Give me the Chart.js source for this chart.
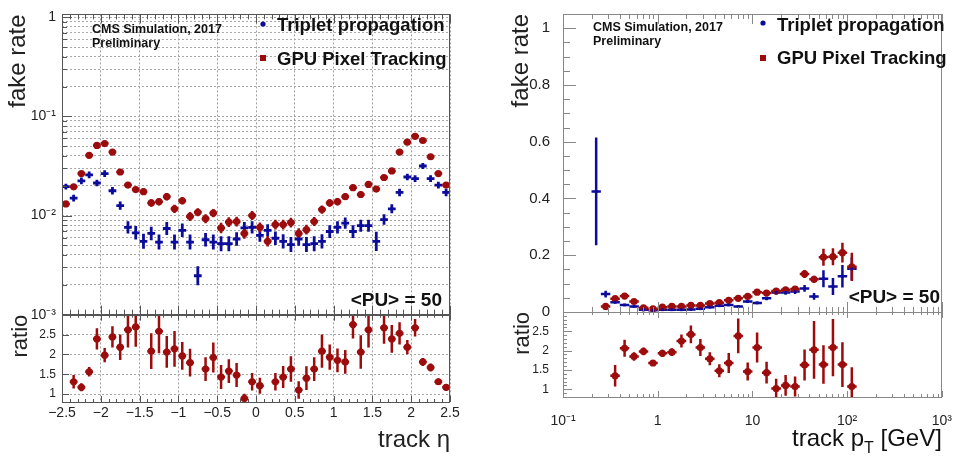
<!DOCTYPE html>
<html lang="en">
<head>
<meta charset="UTF-8">
<title>Fake rate vs eta and pT</title>
<style>
  body { margin: 0; background: #fff; }
  .row { display: flex; width: 960px; height: 461px; }
  canvas { display: block; }
</style>
</head>
<body>
<div class="row">
  <canvas id="etaChart" width="480" height="461"></canvas>
  <canvas id="ptChart" width="480" height="461"></canvas>
</div>
<script src="https://cdn.jsdelivr.net/npm/chart.js"></script>
<script>
const seriesNames = ['Triplet propagation', 'GPU Pixel Tracking']

// eta bins (centres), bin half width 0.05
const etaBins = [-2.45, -2.35, -2.25, -2.15, -2.05, -1.95, -1.85, -1.75, -1.65, -1.55,
  -1.45, -1.35, -1.25, -1.15, -1.05, -0.95, -0.85, -0.75, -0.65, -0.55,
  -0.45, -0.35, -0.25, -0.15, -0.05, 0.05, 0.15, 0.25, 0.35, 0.45,
  0.55, 0.65, 0.75, 0.85, 0.95, 1.05, 1.15, 1.25, 1.35, 1.45,
  1.55, 1.65, 1.75, 1.85, 1.95, 2.05, 2.15, 2.25, 2.35, 2.45]
const etaHalfWidth = 0.05

const etaTriplet = [0.0196, 0.0150, 0.0224, 0.0257, 0.0213, 0.0265, 0.0178, 0.0126, 0.0076, 0.0067,
  0.0055, 0.0066, 0.0054, 0.0074, 0.0054, 0.0071, 0.0054, 0.00247, 0.0057, 0.0054,
  0.0052, 0.0052, 0.0058, 0.0075, 0.0076, 0.0063, 0.0071, 0.0059, 0.0055, 0.0051,
  0.0058, 0.0051, 0.0052, 0.0055, 0.0069, 0.0076, 0.0084, 0.0069, 0.0079, 0.0079,
  0.0055, 0.0091, 0.0117, 0.0171, 0.0245, 0.0236, 0.0316, 0.0236, 0.0203, 0.0171]
// relative errors in %
const etaTripletErr = [7, 8, 8, 8, 8, 8, 9, 10, 15, 17, 19, 17, 19, 16, 19, 17, 19, 25, 17, 19,
  19, 19, 17, 15, 15, 16, 15, 17, 18, 19, 17, 19, 19, 18, 16, 15, 14, 16, 15, 15,
  25, 13, 11, 9, 8, 8, 7, 8, 8, 9]

const etaGpu = [0.0131, 0.0195, 0.0265, 0.0405, 0.0510, 0.0532, 0.0437, 0.0275, 0.0203, 0.0183,
  0.0174, 0.0134, 0.0138, 0.0155, 0.0117, 0.0141, 0.0098, 0.0108, 0.0093, 0.0106,
  0.0075, 0.0086, 0.0087, 0.0066, 0.0100, 0.0076, 0.0055, 0.0081, 0.0081, 0.0085,
  0.0066, 0.0072, 0.0087, 0.0115, 0.0134, 0.0138, 0.0155, 0.0191, 0.0163, 0.0206,
  0.0185, 0.0242, 0.0282, 0.0437, 0.0550, 0.0630, 0.0572, 0.0392, 0.0265, 0.0203]
const etaGpuErr = [4, 4, 4, 4, 4, 4, 4, 5, 6, 6, 7, 9, 9, 9, 10, 9, 11, 10, 11, 10,
  13, 12, 12, 13, 11, 12, 13, 12, 12, 12, 13, 12, 11, 10, 9, 9, 8, 7, 8, 7,
  7, 6, 5, 4, 4, 4, 4, 4, 4, 4]

// ratio GPU / triplet (null = outside the drawn range)
const etaRatio = [null, 1.31, 1.17, 1.56, 2.39, 1.98, 2.44, 2.18, 2.62, 2.69,
  null, 2.08, 2.58, 2.06, 2.14, 1.96, 1.79, null, 1.63, 1.92,
  1.43, 1.58, 1.48, 0.89, 1.31, 1.21, null, 1.31, 1.43, 1.63,
  1.10, 1.40, 1.63, 2.08, 1.93, 1.85, 1.81, 2.75, 2.06, 2.62,
  null, 2.67, 2.39, 2.53, 2.18, 2.67, 1.81, 1.67, 1.31, 1.17]
const etaRatioErr = [null, 0.17, 0.10, 0.12, 0.27, 0.18, 0.27, 0.32, 0.45, 0.50,
  null, 0.45, 0.55, 0.40, 0.45, 0.35, 0.35, null, 0.30, 0.38,
  0.30, 0.30, 0.30, 0.12, 0.22, 0.20, null, 0.22, 0.28, 0.32,
  0.22, 0.30, 0.30, 0.42, 0.32, 0.30, 0.30, 0.35, 0.42, 0.45,
  null, 0.40, 0.35, 0.28, 0.18, 0.22, 0.10, 0.10, 0.08, 0.08]

// pT bins [GeV]
const ptBins = [0.224, 0.282, 0.355, 0.447, 0.562, 0.708, 0.891, 1.12, 1.41, 1.78,
  2.24, 2.82, 3.55, 4.47, 5.62, 7.08, 8.91, 11.2, 14.1, 17.8,
  22.4, 28.2, 35.5, 44.7, 56.2, 70.8, 89.1, 112]
const ptEdges = [0.2, 0.251, 0.316, 0.398, 0.501, 0.631, 0.794, 1, 1.26, 1.58,
  2, 2.51, 3.16, 3.98, 5.01, 6.31, 7.94, 10, 12.6, 15.8,
  20, 25.1, 31.6, 39.8, 50.1, 63.1, 79.4, 100, 126]

const ptTriplet = [0.425, 0.063, 0.0345, 0.025, 0.0195, 0.008, 0.006, 0.008, 0.008, 0.008,
  0.009, 0.0115, 0.017, 0.022, 0.025, 0.0195, 0.037, 0.032, 0.048, 0.069,
  0.069, 0.072, 0.083, 0.055, 0.117, 0.090, 0.126, 0.152]
const ptTripletErr = [0.19, 0.012, 0.005, 0.004, 0.003, 0.002, 0.002, 0.002, 0.002, 0.002,
  0.002, 0.002, 0.003, 0.003, 0.003, 0.003, 0.005, 0.005, 0.007, 0.008,
  0.008, 0.009, 0.012, 0.012, 0.03, 0.03, 0.04, 0.04]

const ptGpu = [null, 0.0195, 0.047, 0.056, 0.037, 0.015, 0.0115, 0.017, 0.0195, 0.0195,
  0.023, 0.023, 0.030, 0.033, 0.041, 0.048, 0.055, 0.070, 0.067, 0.074,
  0.078, 0.081, 0.134, 0.115, 0.193, 0.195, 0.209, 0.159]
const ptGpuErr = [null, 0.004, 0.005, 0.005, 0.004, 0.003, 0.002, 0.002, 0.002, 0.002,
  0.002, 0.002, 0.002, 0.003, 0.003, 0.003, 0.004, 0.005, 0.005, 0.006,
  0.007, 0.008, 0.014, 0.013, 0.03, 0.03, 0.035, 0.05]

const ptRatio = [null, null, 1.35, 2.06, 1.85, 1.98, 1.68, 1.93, 1.96, 2.25,
  2.42, 2.08, 1.79, 1.48, 1.68, 2.38, 1.46, 2.08, 1.43, 1.02,
  1.10, 1.07, 1.63, 2.02, 1.64, 2.08, 1.64, 1.07]
const ptRatioErr = [null, null, 0.28, 0.22, 0.11, 0.10, 0.05, 0.09, 0.10, 0.17,
  0.23, 0.22, 0.17, 0.17, 0.26, 0.45, 0.23, 0.39, 0.28, 0.25,
  0.27, 0.26, 0.40, 0.75, 0.50, 0.74, 0.58, 0.50]

const BLUE = '#0c0c9c'
const RED = '#9c0c0c'
const FONT = '"Liberation Sans", Arial, Helvetica, sans-serif'

Chart.defaults.font.family = FONT
Chart.defaults.color = '#222'

// --- helpers
const SUP = { '-': '\u207B', '0': '\u2070', '1': '\u00B9', '2': '\u00B2', '3': '\u00B3', '4': '\u2074', '5': '\u2075', '6': '\u2076', '7': '\u2077', '8': '\u2078', '9': '\u2079' }
function powLabel(v) {
  const e = Math.round(Math.log10(v))
  if (Math.abs(v / Math.pow(10, e) - 1) > 1e-6) return ''
  if (e === 0) return '1'
  if (e === 1) return '10'
  return '10' + String(e).split('').map(c => SUP[c]).join('')
}
function keepDecadeSteps(scale) {
  scale.ticks = scale.ticks.filter(t => {
    const e = Math.floor(Math.log10(t.value) + 1e-9)
    const m = t.value / Math.pow(10, e)
    return Math.abs(m - Math.round(m)) < 1e-6
  })
}
const isMult = (v, step) => Math.abs(v / step - Math.round(v / step)) < 1e-6
const num = v => String(Math.round(v * 10) / 10).replace('-', '\u2212')
const ratioLabel = v => (isMult(v, 0.5) && v < 2.99) ? num(v) : ''

function etaPoints(vals, errs, relative) {
  const pts = []
  vals.forEach((v, i) => {
    if (v == null) return
    const e = errs[i]
    pts.push({
      x: etaBins[i], y: v,
      xMin: etaBins[i] - etaHalfWidth, xMax: etaBins[i] + etaHalfWidth,
      yMin: relative ? v / (1 + e / 100) : v - e,
      yMax: relative ? v * (1 + e / 100) : v + e
    })
  })
  return pts
}
function ptPoints(vals, errs) {
  const pts = []
  vals.forEach((v, i) => {
    if (v == null) return
    pts.push({ x: ptBins[i], y: v, xMin: ptEdges[i], xMax: ptEdges[i + 1], yMin: v - errs[i], yMax: v + errs[i] })
  })
  return pts
}

// --- plugins
const errorBars = {
  id: 'errorBars',
  beforeDatasetsDraw(chart) {
    const ctx = chart.ctx
    const area = chart.chartArea
    const xs = chart.scales.x
    chart.data.datasets.forEach(ds => {
      const ys = chart.scales[ds.yAxisID]
      ctx.save()
      ctx.beginPath()
      ctx.rect(area.left, ys.top, area.right - area.left, ys.bottom - ys.top)
      ctx.clip()
      ctx.strokeStyle = ds.borderColor
      ctx.lineWidth = ds.errorWidth
      ds.data.forEach(p => {
        const px = xs.getPixelForValue(p.x)
        const py = ys.getPixelForValue(p.y)
        ctx.beginPath()
        ctx.moveTo(xs.getPixelForValue(p.xMin), py)
        ctx.lineTo(xs.getPixelForValue(p.xMax), py)
        ctx.moveTo(px, ys.getPixelForValue(p.yMin))
        ctx.lineTo(px, ys.getPixelForValue(p.yMax))
        ctx.stroke()
      })
      ctx.restore()
    })
  }
}

// ROOT-like frame with inward ticks
const rootFrame = {
  id: 'rootFrame',
  afterDatasetsDraw(chart, args, opts) {
    const ctx = chart.ctx
    const area = chart.chartArea
    const xs = chart.scales.x
    ctx.save()
    ctx.strokeStyle = opts.color
    ctx.lineWidth = 1
    const seg = (x1, y1, x2, y2) => { ctx.beginPath(); ctx.moveTo(x1, y1); ctx.lineTo(x2, y2); ctx.stroke() }
    opts.panels.forEach(p => {
      const ys = chart.scales[p.id]
      ys.ticks.forEach(t => {
        const len = t.label ? p.yMajor : p.yMinor
        if (!len) return
        const y = Math.round(ys.getPixelForValue(t.value)) + 0.5
        seg(area.left, y, area.left + len, y)
      })
      xs.ticks.forEach(t => {
        const len = t.label ? p.xMajor : p.xMinor
        if (!len) return
        const x = Math.round(xs.getPixelForValue(t.value)) + 0.5
        seg(x, ys.bottom, x, ys.bottom - len)
        seg(x, ys.top, x, ys.top + len)
      })
      ctx.strokeRect(Math.round(area.left) + 0.5, Math.round(ys.top) + 0.5,
        Math.round(area.right - area.left) - 1, Math.round(ys.bottom - ys.top))
    })
    ctx.restore()
  }
}

const annotations = {
  id: 'annotations',
  afterDraw(chart, args, opts) {
    const ctx = chart.ctx
    ctx.save()
    ;(opts.gaps || []).forEach(g => {
      ctx.fillStyle = '#fff'
      ctx.fillRect(g.x1, g.y - 2, g.x2 - g.x1, 4)
    })
    ctx.fillStyle = '#111'
    ctx.textBaseline = 'alphabetic'
    opts.texts.forEach(t => {
      ctx.font = t.font
      ctx.textAlign = t.align || 'left'
      ctx.fillText(t.text, t.x, t.y)
    })
    opts.legend.forEach(l => {
      ctx.fillStyle = l.color
      if (l.shape === 'dot') {
        ctx.beginPath(); ctx.arc(l.mx, l.my, 2.6, 0, Math.PI * 2); ctx.fill()
      } else {
        ctx.fillRect(l.mx - 3, l.my - 3, 6, 6)
      }
      ctx.fillStyle = '#111'
      ctx.font = 'bold 18.5px ' + FONT
      ctx.textAlign = 'left'
      ctx.fillText(l.text, l.tx, l.ty)
    })
    if (opts.richTitle) {
      const r = opts.richTitle
      let w = 0
      r.parts.forEach(p => { ctx.font = p.size + 'px ' + FONT; p.w = ctx.measureText(p.text).width; w += p.w })
      let x = chart.chartArea.right - w
      ctx.textAlign = 'left'
      r.parts.forEach(p => {
        ctx.font = p.size + 'px ' + FONT
        ctx.fillText(p.text, x, r.y + (p.dy || 0))
        x += p.w
      })
    }
    ctx.restore()
  }
}

const boldSmall = 'bold 12.5px ' + FONT
const boldBig = 'bold 19px ' + FONT

// --- eta panel
new Chart(document.getElementById('etaChart'), {
  type: 'scatter',
  data: {
    datasets: [
      { label: seriesNames[0], yAxisID: 'y', data: etaPoints(etaTriplet, etaTripletErr, true),
        backgroundColor: BLUE, borderColor: BLUE, pointStyle: 'rect', pointRadius: 2, pointBorderWidth: 0, errorWidth: 2.8 },
      { label: seriesNames[1], yAxisID: 'y', data: etaPoints(etaGpu, etaGpuErr, true),
        backgroundColor: RED, borderColor: RED, pointStyle: 'circle', pointRadius: 3.6, pointBorderWidth: 0, errorWidth: 2.5 },
      { label: 'ratio', yAxisID: 'yRatio', data: etaPoints(etaRatio, etaRatioErr, false),
        backgroundColor: RED, borderColor: RED, pointStyle: 'circle', pointRadius: 3.6, pointBorderWidth: 0, errorWidth: 2.5 }
    ]
  },
  options: {
    responsive: false,
    animation: false,
    events: [],
    layout: { padding: { top: 7, right: 30, left: 0, bottom: 0 } },
    plugins: {
      legend: { display: false },
      tooltip: { enabled: false },
      rootFrame: {
        color: '#555',
        panels: [
          { id: 'y', yMajor: 10, yMinor: 5, xMajor: 9, xMinor: 5 },
          { id: 'yRatio', yMajor: 7, yMinor: 0, xMajor: 6, xMinor: 3 }
        ]
      },
      annotations: {
        texts: [
          { text: 'CMS Simulation, 2017', x: 92, y: 33, font: boldSmall },
          { text: 'Preliminary', x: 92, y: 47, font: boldSmall },
          { text: '<PU> = 50', x: 442, y: 306, font: boldBig, align: 'right' }
        ],
        legend: [
          { text: seriesNames[0], color: BLUE, shape: 'dot', mx: 263, my: 24, tx: 277, ty: 31 },
          { text: seriesNames[1], color: RED, shape: 'square', mx: 263, my: 58, tx: 277, ty: 65 }
        ]
      }
    },
    scales: {
      x: {
        type: 'linear', min: -2.5, max: 2.5,
        afterFit: s => { s.height = 59 },
        ticks: { stepSize: 0.1, autoSkip: false, maxRotation: 0, padding: 3, font: { size: 14 },
          callback: v => isMult(v, 0.5) ? num(v) : '' },
        grid: { drawTicks: false, color: c => (c.tick && isMult(c.tick.value, 0.5)) ? '#a0a0a0' : 'rgba(0,0,0,0)' },
        border: { display: false, dash: [2, 2] },
        title: { display: true, text: 'track \u03B7', align: 'end', color: '#222', font: { size: 24 }, padding: { top: 0, bottom: 6 } }
      },
      // left boxes are stacked bottom-up: ratio first, main plot second
      yRatio: {
        type: 'linear', min: 0.8, max: 3, stack: 'eta', stackWeight: 89,
        afterFit: s => { s.width = 62 },
        ticks: { stepSize: 0.1, autoSkip: false, padding: 6, font: { size: 12 }, callback: v => ratioLabel(v) },
        grid: { drawTicks: false, color: c => (c.tick && isMult(c.tick.value, 0.5) && c.tick.value < 2.99) ? '#a8a8a8' : 'rgba(0,0,0,0)' },
        border: { display: false, dash: [2, 2] },
        title: { display: true, text: 'ratio', align: 'end', color: '#222', font: { size: 22 }, padding: { top: 8, bottom: 0 } }
      },
      y: {
        type: 'logarithmic', min: 0.001, max: 1.07, stack: 'eta', stackWeight: 306,
        afterFit: s => { s.width = 62 },
        afterBuildTicks: keepDecadeSteps,
        ticks: { autoSkip: false, padding: 6, font: { size: 14 }, callback: v => powLabel(v) },
        grid: { drawTicks: false, color: '#a8a8a8' },
        border: { display: false, dash: [2, 2] },
        title: { display: true, text: 'fake rate', align: 'end', color: '#222', font: { size: 24 }, padding: { top: 4, bottom: 0 } }
      }
    }
  },
  plugins: [errorBars, rootFrame, annotations]
})

// --- pT panel
new Chart(document.getElementById('ptChart'), {
  type: 'scatter',
  data: {
    datasets: [
      { label: seriesNames[0], yAxisID: 'y', data: ptPoints(ptTriplet, ptTripletErr),
        backgroundColor: BLUE, borderColor: BLUE, pointStyle: 'rect', pointRadius: 2, pointBorderWidth: 0, errorWidth: 2.5 },
      { label: seriesNames[1], yAxisID: 'y', data: ptPoints(ptGpu, ptGpuErr),
        backgroundColor: RED, borderColor: RED, pointStyle: 'circle', pointRadius: 3.6, pointBorderWidth: 0, errorWidth: 2.5 },
      { label: 'ratio', yAxisID: 'yRatio', data: ptPoints(ptRatio, ptRatioErr),
        backgroundColor: RED, borderColor: RED, pointStyle: 'circle', pointRadius: 3.6, pointBorderWidth: 0, errorWidth: 2.5 }
    ]
  },
  options: {
    responsive: false,
    animation: false,
    events: [],
    layout: { padding: { top: 5, right: 11, left: 0, bottom: 0 } },
    plugins: {
      legend: { display: false },
      tooltip: { enabled: false },
      rootFrame: {
        color: '#888',
        panels: [
          { id: 'y', yMajor: 13, yMinor: 7, xMajor: 10, xMinor: 5 },
          { id: 'yRatio', yMajor: 9, yMinor: 4, xMajor: 6, xMinor: 3 }
        ]
      },
      annotations: {
        gaps: [{ x1: 270, x2: 370, y: 5.5 }],
        texts: [
          { text: 'CMS Simulation, 2017', x: 113, y: 31, font: boldSmall },
          { text: 'Preliminary', x: 113, y: 45, font: boldSmall },
          { text: '<PU> = 50', x: 460, y: 303, font: boldBig, align: 'right' }
        ],
        legend: [
          { text: seriesNames[0], color: BLUE, shape: 'dot', mx: 283, my: 23, tx: 297, ty: 31 },
          { text: seriesNames[1], color: RED, shape: 'square', mx: 283, my: 58, tx: 297, ty: 64 }
        ],
        richTitle: {
          y: 446,
          parts: [{ text: 'track p', size: 24 }, { text: 'T', size: 16, dy: 7 }, { text: ' [GeV]', size: 24 }]
        }
      }
    },
    scales: {
      x: {
        type: 'logarithmic', min: 0.1, max: 1000,
        afterFit: s => { s.height = 64 },
        afterBuildTicks: keepDecadeSteps,
        ticks: { autoSkip: false, maxRotation: 0, padding: 8, font: { size: 14 }, callback: v => powLabel(v) },
        grid: { display: false },
        border: { display: false }
      },
      yRatio: {
        type: 'linear', min: 0.8, max: 3, stack: 'pt', stackWeight: 87,
        afterFit: s => { s.width = 83 },
        ticks: { stepSize: 0.1, autoSkip: false, padding: 6, font: { size: 12 }, callback: v => ratioLabel(v) },
        grid: { display: false },
        border: { display: false },
        title: { display: true, text: 'ratio', align: 'end', color: '#222', font: { size: 22 }, padding: { top: 30, bottom: 0 } }
      },
      y: {
        type: 'linear', min: 0, max: 1.05, stack: 'pt', stackWeight: 305,
        afterFit: s => { s.width = 83 },
        ticks: { stepSize: 0.05, autoSkip: false, padding: 5, font: { size: 15 },
          callback: v => isMult(v, 0.2) ? num(v) : '' },
        grid: { display: false },
        border: { display: false },
        title: { display: true, text: 'fake rate', align: 'end', color: '#222', font: { size: 24 }, padding: { top: 27, bottom: 0 } }
      }
    }
  },
  plugins: [errorBars, rootFrame, annotations]
})
</script>
</body>
</html>
